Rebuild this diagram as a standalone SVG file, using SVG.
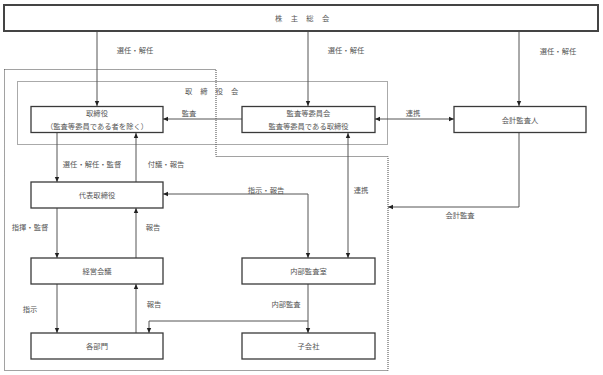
<svg xmlns="http://www.w3.org/2000/svg" width="603" height="375" viewBox="0 0 603 375">
<style>
text{font-family:"Noto Sans CJK JP","Noto Sans CJK SC",sans-serif;font-size:7.3px;fill:#555;dominant-baseline:central}
.c{text-anchor:middle}
.box{fill:#fff;stroke:#3a3a3a;stroke-width:1.3}
.top{fill:#fff;stroke:#444;stroke-width:2}
.ln{fill:none;stroke:#555;stroke-width:1}
</style>
<defs>
<marker id="ah" markerUnits="userSpaceOnUse" markerWidth="6" markerHeight="6" refX="5" refY="3" orient="auto-start-reverse"><path d="M0,0.8 L5,3 L0,5.2 Z" fill="#222"/></marker>
</defs>
<rect x="0" y="0" width="603" height="375" fill="#fff"/>
<g id="frames">
<rect x="17.5" y="81.5" width="370" height="63" fill="none" stroke="#aaa" stroke-width="1"/>
<path d="M4.5,69.5 H216 V156.5 H388 V370.5 H4.5 Z" fill="none" stroke="#444" stroke-width="1" stroke-dasharray="1,1"/>
<text x="185" y="91">取</text><text x="200.3" y="91">締</text><text x="215.7" y="91">役</text><text x="231" y="91">会</text>
</g>
<g id="connectors">
<path class="ln" d="M97,32 V106" marker-end="url(#ah)"/>
<path class="ln" d="M308,32 V106" marker-end="url(#ah)"/>
<path class="ln" d="M519,32 V106" marker-end="url(#ah)"/>
<path class="ln" d="M242,119 H163" marker-end="url(#ah)"/>
<path class="ln" d="M375,119 H454" marker-start="url(#ah)" marker-end="url(#ah)"/>
<path class="ln" d="M57,133 V182" marker-end="url(#ah)"/>
<path class="ln" d="M136,182 V133" marker-end="url(#ah)"/>
<path class="ln" d="M163,194 H308 V258" marker-start="url(#ah)" marker-end="url(#ah)"/>
<path class="ln" d="M348,133 V258" marker-start="url(#ah)" marker-end="url(#ah)"/>
<path class="ln" d="M519,133 V207 H388" marker-end="url(#ah)"/>
<path class="ln" d="M57,208 V258" marker-end="url(#ah)"/>
<path class="ln" d="M136,258 V208" marker-end="url(#ah)"/>
<path class="ln" d="M57,284 V333" marker-end="url(#ah)"/>
<path class="ln" d="M136,333 V284" marker-end="url(#ah)"/>
<path class="ln" d="M308,284 V333" marker-end="url(#ah)"/>
<path class="ln" d="M308,321 H149 V333" stroke="#777" stroke-width="1.4" marker-end="url(#ah)"/>
<text class="c" x="135" y="50">選任・解任</text>
<text class="c" x="346" y="50">選任・解任</text>
<text class="c" x="558" y="51">選任・解任</text>
<text class="c" x="189" y="113">監査</text>
<text class="c" x="413" y="113">連携</text>
<text class="c" x="92" y="164">選任・解任・監督</text>
<text class="c" x="166" y="164">付議・報告</text>
<text class="c" x="266" y="190">指示・報告</text>
<text class="c" x="361" y="190">連携</text>
<text class="c" x="460" y="215">会計監査</text>
<text class="c" x="30" y="227">指揮・監督</text>
<text class="c" x="153" y="227">報告</text>
<text class="c" x="30" y="309">指示</text>
<text class="c" x="154" y="304">報告</text>
<text class="c" x="286" y="304">内部監査</text>
</g>
<g id="shareholders">
<rect class="top" x="4" y="5" width="594" height="26"/>
<text x="275" y="18">株</text><text x="290.7" y="18">主</text><text x="306.3" y="18">総</text><text x="322" y="18">会</text>
</g>
<g id="directors">
<rect class="box" x="31" y="106.5" width="132" height="26"/>
<text class="c" x="97" y="113">取締役</text>
<text class="c" x="97" y="126">（監査等委員である者を除く）</text>
</g>
<g id="audit-committee">
<rect class="box" x="242" y="106.5" width="133" height="26"/>
<text class="c" x="308.5" y="113">監査等委員会</text>
<text class="c" x="308.5" y="126">監査等委員である取締役</text>
</g>
<g id="accounting-auditor">
<rect class="box" x="454" y="106.5" width="132" height="26"/>
<text class="c" x="520" y="120">会計監査人</text>
</g>
<g id="representative">
<rect class="box" x="31" y="182" width="132" height="26"/>
<text class="c" x="97" y="195">代表取締役</text>
</g>
<g id="management-meeting">
<rect class="box" x="31" y="258" width="132" height="26"/>
<text class="c" x="97" y="271">経営会議</text>
</g>
<g id="departments">
<rect class="box" x="31" y="333" width="132" height="26"/>
<text class="c" x="97" y="346">各部門</text>
</g>
<g id="internal-audit">
<rect class="box" x="242" y="258" width="133" height="26"/>
<text class="c" x="308.5" y="271">内部監査室</text>
</g>
<g id="subsidiaries">
<rect class="box" x="242" y="333" width="133" height="26"/>
<text class="c" x="308.5" y="346">子会社</text>
</g>
</svg>
